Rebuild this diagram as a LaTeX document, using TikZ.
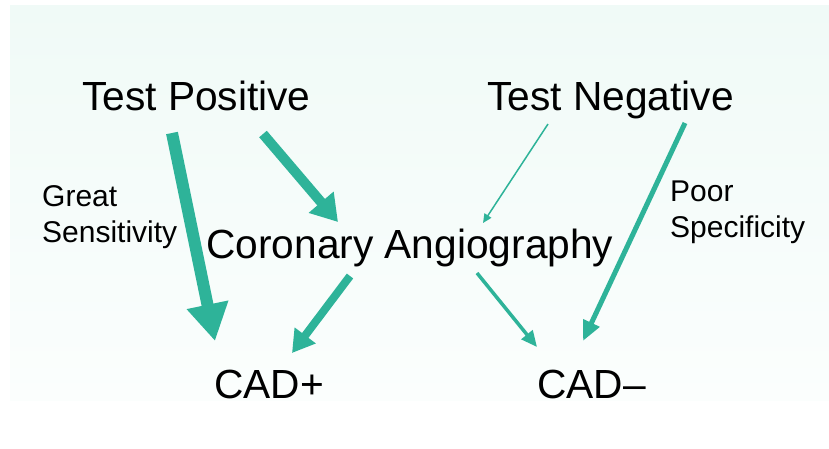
\documentclass[tikz,border=0pt]{standalone}
\usepackage{fontspec}
\setmainfont{Liberation Sans}
\usetikzlibrary{arrows.meta}
\definecolor{teal}{HTML}{2EB399}
\definecolor{mintTop}{HTML}{F0FAF7}
\definecolor{mintBot}{HTML}{FBFEFD}
\begin{document}
\begin{tikzpicture}[x=1pt,y=-1pt,
  big/.style={anchor=base west,inner sep=0pt,font=\fontsize{40.7}{48}\selectfont},
  note/.style={anchor=base west,inner sep=0pt,align=left,font=\fontsize{30}{36}\selectfont},
  link/.style={draw=teal,fill=teal,line cap=butt}]
  % page and pale backdrop
  \useasboundingbox (0,0) rectangle (829,448);
  \fill[white] (0,0) rectangle (829,448);
  \shade[top color=mintTop,bottom color=mintBot] (10,5) rectangle (829,400);

  % labels
  \node[big] (tp) at (82,110) {Test Positive};
  \node[big] (tn) at (487,110) {Test Negative};
  \node[big] (ca) at (206,258) {Coronary Angiography};
  \node[big] (cp) at (214,398) {CAD+};
  \node[big] (cm) at (537,398) {CAD–};
  % two-line notes: the anchor sits on the last line's baseline
  \node[note] (sens) at (42,242) {Great\\Sensitivity};
  \node[note] (spec) at (670,237) {Poor\\Specificity};

  % connector end points
  \coordinate (tp-a) at (172,133);
  \coordinate (cp-a) at (215,341);
  \coordinate (tp-b) at (263,134);
  \coordinate (ca-b) at (338,222);
  \coordinate (ca-c) at (350,276);
  \coordinate (cp-c) at (292,353);
  \coordinate (tn-d) at (548,124);
  \coordinate (ca-d) at (483,223);
  \coordinate (ca-e) at (477,273);
  \coordinate (cm-e) at (537,347);
  \coordinate (tn-f) at (685,123);
  \coordinate (cm-f) at (583,341);

  % connectors
  \draw[link,line width=12pt,-{Triangle[length=37pt,width=40pt]}] (tp-a) -- (cp-a);
  \draw[link,line width=10pt,-{Triangle[length=26pt,width=31pt]}] (tp-b) -- (ca-b);
  \draw[link,line width=8pt,-{Triangle[length=22pt,width=25pt]}] (ca-c) -- (cp-c);
  \draw[link,line width=1.5pt,-{Triangle[length=9pt,width=8pt]}] (tn-d) -- (ca-d);
  \draw[link,line width=3.5pt,-{Triangle[length=16pt,width=14pt]}] (ca-e) -- (cm-e);
  \draw[link,line width=5pt,-{Triangle[length=20pt,width=17pt]}] (tn-f) -- (cm-f);
\end{tikzpicture}
\end{document}
